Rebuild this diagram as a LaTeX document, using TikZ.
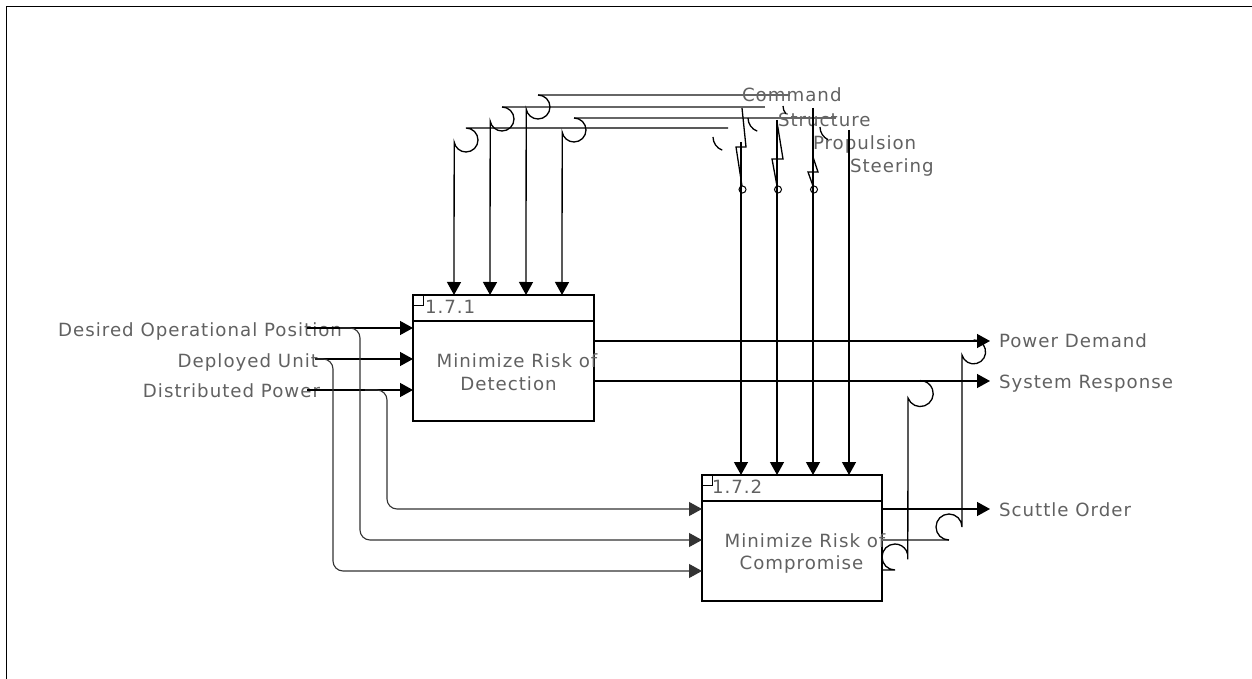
\documentclass[tikz,border=0pt]{standalone}
\usepackage{fontspec}
\setmainfont{DejaVu Sans}[LetterSpace=5.5]
\usetikzlibrary{arrows.meta}
\begin{document}
\begin{tikzpicture}[x=0.5pt,y=-0.5pt,line width=0.65pt,
  lbl/.style={inner sep=0pt,outer sep=0pt,text=black!62,font=\fontsize{9.1}{11}\selectfont},
  boxnode/.style={draw,line width=0.7pt,inner sep=0pt,outer sep=0pt,anchor=north west,minimum width=90.5pt,minimum height=63pt},
  arr/.style={-{Triangle[length=6.5pt,width=7pt]}},
  gline/.style={draw=black!60},
  bline/.style={draw=black!80,line width=0.55pt},
]
\useasboundingbox (0,0) rectangle (1252,679);
% frame
\draw[line width=0.75pt] (6.5,679) -- (6.5,6.5) -- (1252,6.5);

% boxes
\node[boxnode] (b1) at (413,295) {};
\node[boxnode,minimum width=90pt] (b2) at (702,475) {};
\draw ([yshift=-13pt]b1.north west) -- ([yshift=-13pt]b1.north east);
\draw ([yshift=-13pt]b2.north west) -- ([yshift=-13pt]b2.north east);
\draw[line width=0.5pt] (b1.north west) rectangle ++(10,10);
\draw[line width=0.5pt] (b2.north west) rectangle ++(10,10);
\node[lbl,anchor=base west] (n1) at (425,313.5) {1.7.1};
\node[lbl,anchor=base west] (n2) at (712,493) {1.7.2};
\node[lbl,anchor=base] (t1a) at (517,367) {Minimize Risk of};
\node[lbl,anchor=base] (t1b) at (508.5,390) {Detection};
\node[lbl,anchor=base] (t2a) at (805,547) {Minimize Risk of};
\node[lbl,anchor=base] (t2b) at (801.5,569) {Compromise};

% input labels
\node[lbl,anchor=base east] (lDOP) at (342,336) {Desired Operational Position};
\node[lbl,anchor=base east] (lDU) at (318,367) {Deployed Unit};
\node[lbl,anchor=base east] (lDP) at (320,397) {Distributed Power};
\coordinate (iDOP) at (307,328);
\coordinate (iDU) at (315,359);
\coordinate (iDP) at (307,390);

% output labels
\node[lbl,anchor=base west] (lPD) at (999,347.5) {Power Demand};
\node[lbl,anchor=base west] (lSR) at (999,388) {System Response};
\node[lbl,anchor=base west] (lSO) at (999,516) {Scuttle Order};
\coordinate (oPD) at (990,341);
\coordinate (oSR) at (990,381);
\coordinate (oSO) at (990,509);

% control labels
\node[lbl,anchor=base west] (lC) at (742,102) {Command};
\node[lbl,anchor=base west] (lS) at (778,127) {Structure};
\node[lbl,anchor=base west] (lP) at (813,150) {Propulsion};
\node[lbl,anchor=base west] (lSt) at (850,173) {Steering};

% inputs to box 1
\draw[arr] (iDOP) -- (b1.west |- iDOP);
\draw[arr] (iDU) -- (b1.west |- iDU);
\draw[arr] (iDP) -- (b1.west |- iDP);

% branches to box 2
\draw[bline,arr,rounded corners=5pt] (340,328) -- (360,328) -- (360,540) -- (b2.west |- 0,540);
\draw[bline,arr,rounded corners=5pt] (315,359) -- (333,359) -- (333,571) -- (b2.west |- 0,571);
\draw[bline,arr,rounded corners=5pt] (365,390) -- (387,390) -- (387,509) -- (b2.west |- 0,509);

% controls of box 1
\draw[arr] (728,128) -- (466,128) arc[start angle=-90,end angle=170,radius=12] -- (b1.north -| 454,0);
\draw[gline] (765,107) -- (502,107);
\draw[arr] (502,107) arc[start angle=-90,end angle=170,radius=12] -- (b1.north -| 490,0);
\draw[gline] (790,95) -- (538,95);
\draw[arr] (538,95) arc[start angle=-90,end angle=170,radius=12] -- (b1.north -| 526,0);
\draw[gline] (836,118) -- (574,118);
\draw[arr] (574,118) arc[start angle=-90,end angle=170,radius=12] -- (b1.north -| 562,0);

% hops at right ends
\draw (713,137) arc[start angle=180,end angle=110,radius=14];
\draw (748,118) arc[start angle=180,end angle=110,radius=14];
\draw (783,106) arc[start angle=180,end angle=140,radius=12];
\draw (820,127) arc[start angle=180,end angle=115,radius=14];

% controls of box 2 with squiggles
\draw[arr] (741,142) -- (b2.north -| 741,0);
\draw (742,108) -- (746,147) -- (736,147) -- (742,186);
\draw[line width=0.5pt] (742.5,189.5) circle[radius=3.5];
\draw[arr] (777,120) -- (b2.north -| 777,0);
\draw (777,122) -- (783,159) -- (772,159) -- (777,186);
\draw[line width=0.5pt] (778,189.5) circle[radius=3.5];
\draw[arr] (813,108) -- (b2.north -| 813,0);
\draw (813,157) -- (818,172) -- (808,172) -- (813,186);
\draw[line width=0.5pt] (814,189.5) circle[radius=3.5];
\draw[arr] (849,130) -- (b2.north -| 849,0);

% outputs
\draw[arr] (b1.east |- oPD) -- (oPD);
\draw[arr] (b1.east |- oSR) -- (oSR);
\draw[arr] (b2.east |- oSO) -- (oSO);

% feedbacks
\draw[gline] (b2.east |- 0,540) -- (949,540);
\draw (949,540) arc[start angle=90,end angle=360,radius=13] -- (962,355) arc[start angle=165,end angle=-90,radius=12];
\draw (b2.east |- 0,570) -- (895,570) arc[start angle=90,end angle=370,radius=13] -- (908,398) arc[start angle=160,end angle=-90,radius=13];
\end{tikzpicture}
\end{document}
